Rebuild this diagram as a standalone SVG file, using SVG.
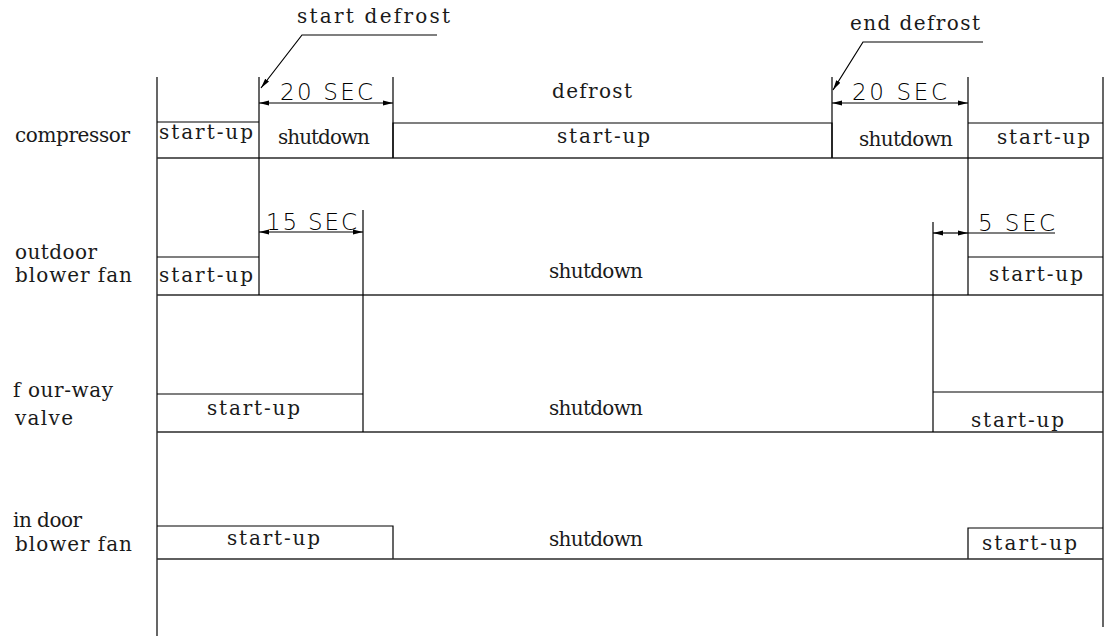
<svg xmlns="http://www.w3.org/2000/svg" width="1107" height="639" viewBox="0 0 1107 639">
<defs>
<style>
.ln{stroke:#000;stroke-width:1.2;fill:none}
.hl{stroke:#2a2a2a;stroke-width:1.4;fill:none}
.t{font-family:"DejaVu Serif","Liberation Serif",serif;font-size:20px;fill:#1a1a1a}
.d{font-family:"DejaVu Sans ExtraLight","DejaVu Sans","Liberation Sans",sans-serif;font-weight:200;font-size:23px;fill:#000}
.ah{fill:#000}
</style>
<marker id="arr" viewBox="0 0 10 6" refX="10" refY="3" markerWidth="10" markerHeight="6" markerUnits="userSpaceOnUse" orient="auto">
<path d="M0,0.6 L10,3 L0,5.4 Z" class="ah"/>
</marker>
</defs>
<rect width="1107" height="639" fill="#fff"/>

<g id="frame">
<line class="ln" x1="157" y1="77" x2="157" y2="636"/>
<line class="ln" x1="1103" y1="77" x2="1103" y2="627"/>
</g>

<g id="labels">
<text class="t" x="15" y="142" textLength="115" lengthAdjust="spacing">compressor</text>
<text class="t" x="15" y="259" textLength="82" lengthAdjust="spacing">outdoor</text>
<text class="t" x="15" y="282" textLength="117" lengthAdjust="spacing">blower fan</text>
<text class="t" x="13" y="397" textLength="100" lengthAdjust="spacing">f our-way</text>
<text class="t" x="15" y="425" textLength="58" lengthAdjust="spacing">valve</text>
<text class="t" x="13" y="527" textLength="69" lengthAdjust="spacing">in door</text>
<text class="t" x="15" y="551" textLength="117" lengthAdjust="spacing">blower fan</text>
</g>

<g id="compressor">
<polyline class="ln" points="157,122 259,122"/>
<polyline class="ln" points="393,158 393,123 832,123 832,158"/>
<polyline class="ln" points="968,123 1103,123"/>
<line class="hl" x1="157" y1="158" x2="1103" y2="158"/>
<text class="t" x="159" y="139" textLength="94" lengthAdjust="spacing">start-up</text>
<text class="t" x="278" y="144" textLength="92" lengthAdjust="spacing">shutdown</text>
<text class="t" x="557" y="143" textLength="93" lengthAdjust="spacing">start-up</text>
<text class="t" x="859" y="146" textLength="94" lengthAdjust="spacing">shutdown</text>
<text class="t" x="997" y="144" textLength="93" lengthAdjust="spacing">start-up</text>
</g>

<g id="outdoor-fan">
<polyline class="ln" points="157,257 259,257"/>
<polyline class="ln" points="968,257 1103,257"/>
<line class="hl" x1="157" y1="295" x2="1103" y2="295"/>
<text class="t" x="159" y="282" textLength="94" lengthAdjust="spacing">start-up</text>
<text class="t" x="549" y="278" textLength="94" lengthAdjust="spacing">shutdown</text>
<text class="t" x="989" y="281" textLength="94" lengthAdjust="spacing">start-up</text>
</g>

<g id="four-way-valve">
<polyline class="ln" points="157,394 363,394"/>
<polyline class="ln" points="933,392 1103,392"/>
<line class="hl" x1="157" y1="432" x2="1103" y2="432"/>
<text class="t" x="207" y="415" textLength="93" lengthAdjust="spacing">start-up</text>
<text class="t" x="549" y="415" textLength="94" lengthAdjust="spacing">shutdown</text>
<text class="t" x="971" y="427" textLength="93" lengthAdjust="spacing">start-up</text>
</g>

<g id="indoor-fan">
<polyline class="ln" points="157,526 393,526 393,559"/>
<polyline class="ln" points="968,559 968,528 1103,528"/>
<line class="hl" x1="157" y1="559" x2="1103" y2="559"/>
<text class="t" x="227" y="545" textLength="93" lengthAdjust="spacing">start-up</text>
<text class="t" x="549" y="546" textLength="94" lengthAdjust="spacing">shutdown</text>
<text class="t" x="982" y="550" textLength="95" lengthAdjust="spacing">start-up</text>
</g>

<g id="edges">
<line class="ln" x1="259" y1="77" x2="259" y2="295"/>
<line class="ln" x1="393" y1="77" x2="393" y2="158"/>
<line class="ln" x1="832" y1="77" x2="832" y2="158"/>
<line class="ln" x1="968" y1="77" x2="968" y2="295"/>
<line class="ln" x1="363" y1="210" x2="363" y2="432"/>
<line class="ln" x1="933" y1="222" x2="933" y2="432"/>
</g>

<g id="connectors">
<line class="ln" x1="326" y1="103" x2="259" y2="103" marker-end="url(#arr)"/>
<line class="ln" x1="326" y1="103" x2="393" y2="103" marker-end="url(#arr)"/>
<line class="ln" x1="900" y1="103" x2="832" y2="103" marker-end="url(#arr)"/>
<line class="ln" x1="900" y1="103" x2="968" y2="103" marker-end="url(#arr)"/>
<line class="ln" x1="311" y1="232" x2="259" y2="232" marker-end="url(#arr)"/>
<line class="ln" x1="311" y1="232" x2="363" y2="232" marker-end="url(#arr)"/>
<line class="ln" x1="950" y1="233" x2="933" y2="233" marker-end="url(#arr)"/>
<line class="ln" x1="950" y1="233" x2="968" y2="233" marker-end="url(#arr)"/>
<line class="ln" x1="968" y1="233" x2="1055" y2="233"/>
<polyline class="ln" points="437,35 302,35 261,88" marker-end="url(#arr)"/>
<polyline class="ln" points="983,42 863,42 833,90" marker-end="url(#arr)"/>
</g>

<g id="dimension-labels">
<text class="d" x="280" y="100" textLength="93" lengthAdjust="spacing">20 SEC</text>
<text class="d" x="852" y="100" textLength="95" lengthAdjust="spacing">20 SEC</text>
<text class="d" x="266" y="230" textLength="91" lengthAdjust="spacing">15 SEC</text>
<text class="d" x="978" y="231" textLength="77" lengthAdjust="spacing">5 SEC</text>
</g>

<g id="event-labels">
<text class="t" x="297" y="23" textLength="153" lengthAdjust="spacing">start defrost</text>
<text class="t" x="850" y="30" textLength="130" lengthAdjust="spacing">end defrost</text>
<text class="t" x="552" y="98" textLength="80" lengthAdjust="spacing">defrost</text>
</g>
</svg>
